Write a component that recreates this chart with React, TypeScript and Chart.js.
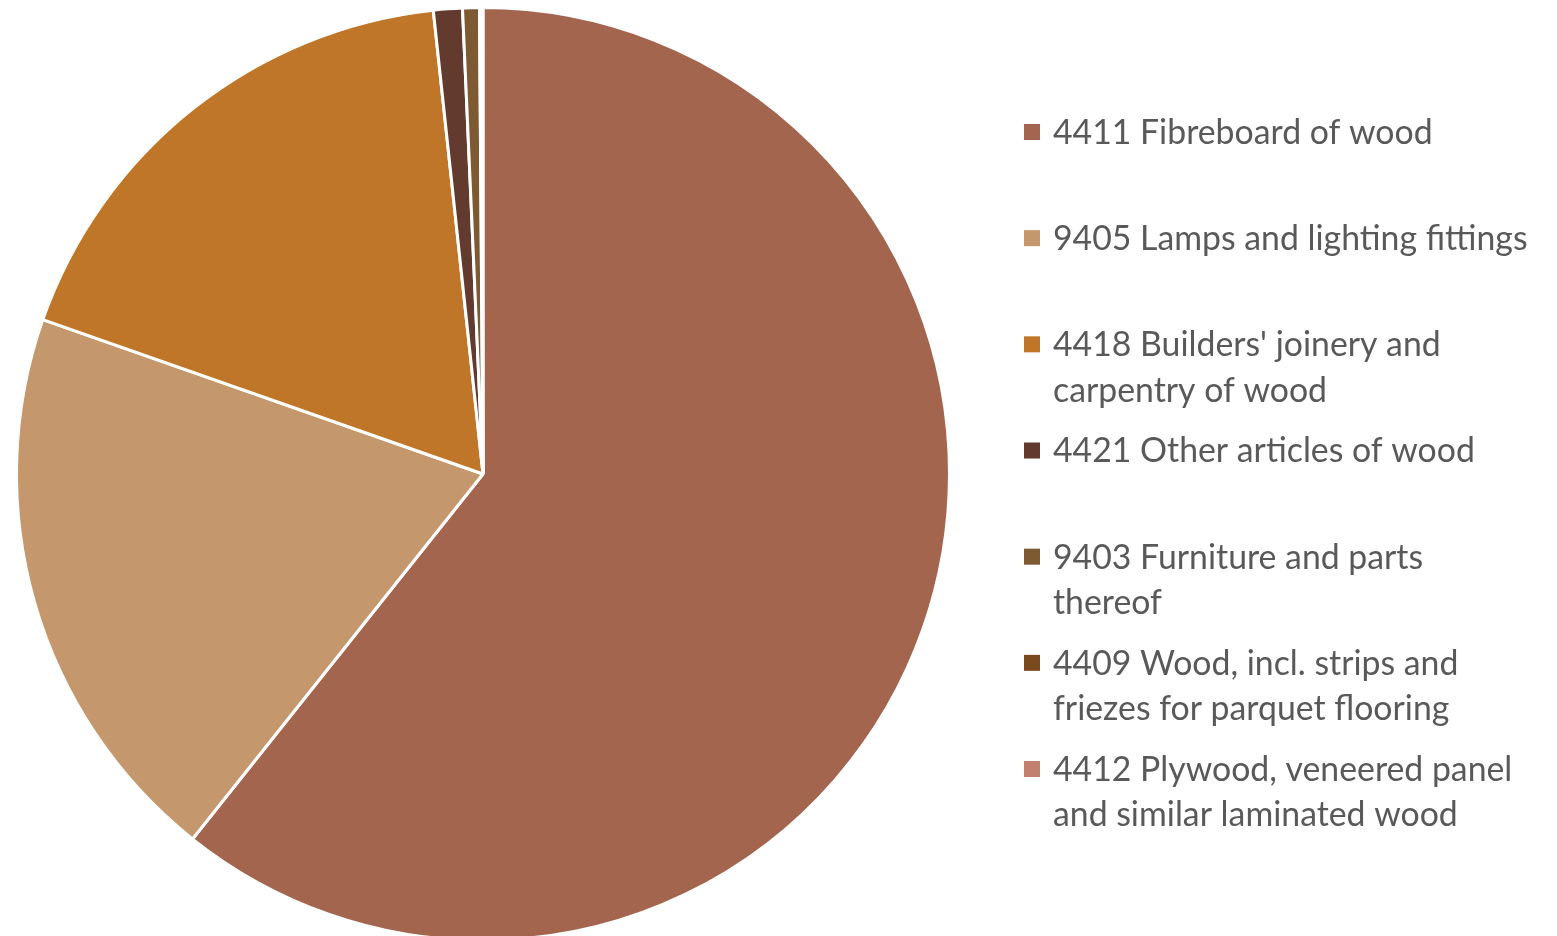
import React, { useEffect, useRef } from "react";
import { Chart, registerables } from "chart.js";

Chart.register(...registerables);

const categories: string[][] = [
  ["4411 Fibreboard of wood"],
  ["9405 Lamps and lighting fittings"],
  ["4418 Builders' joinery and", "carpentry of wood"],
  ["4421 Other articles of wood"],
  ["9403 Furniture and parts", "thereof"],
  ["4409 Wood, incl. strips and", "friezes for parquet flooring"],
  ["4412 Plywood, veneered panel", "and similar laminated wood"],
];
const shares: number[] = [60.69, 19.67, 17.93, 1.0, 0.58, 0.07, 0.05];
const colors: string[] = ["#A4654F", "#C4976C", "#C07629", "#633A2E", "#7E5A33", "#7A4A1E", "#C2806F"];

const FONT = "Lato";
const FONT_SIZE = 33.8;

const legendPlugin = {
  id: "sideLegend",
  afterDraw(chart: any) {
    const ctx = chart.ctx as CanvasRenderingContext2D;
    const labels = chart.data.labels as string[][];
    const bg = chart.data.datasets[0].backgroundColor as string[];
    const x0 = 1024;
    const y0 = 132;
    const step = 106.17;
    const lineH = 45.5;
    ctx.save();
    ctx.font = `${FONT_SIZE}px ${FONT}`;
    ctx.textBaseline = "middle";
    ctx.textAlign = "left";
    labels.forEach((lines, i) => {
      const cy = y0 + i * step;
      ctx.fillStyle = bg[i];
      ctx.fillRect(x0, cy - 8, 16, 16);
      ctx.fillStyle = "#595959";
      lines.forEach((ln, j) => {
        ctx.fillText(ln, x0 + 29, cy + 1 + j * lineH);
      });
    });
    ctx.restore();
  },
};

export default function App() {
  const ref = useRef<HTMLCanvasElement | null>(null);
  useEffect(() => {
    if (!ref.current) return;
    const chart = new Chart(ref.current, {
      type: "pie",
      data: {
        labels: categories as any,
        datasets: [
          {
            data: shares,
            backgroundColor: colors,
            borderColor: "#FFFFFF",
            borderWidth: 3,
          },
        ],
      },
      options: {
        animation: false,
        responsive: false,
        maintainAspectRatio: false,
        layout: { padding: { left: 15, top: 6, right: 606, bottom: 0 } },
        plugins: {
          legend: { display: false },
          tooltip: { enabled: false },
        },
      },
      plugins: [legendPlugin],
    });
    return () => chart.destroy();
  }, []);
  return (
    <div style={{ position: "fixed", left: 0, top: 0, width: 1557, height: 936, overflow: "hidden", background: "#FFFFFF" }}>
      <canvas ref={ref} width={1557} height={942} style={{ width: 1557, height: 942, display: "block" }} />
    </div>
  );
}
